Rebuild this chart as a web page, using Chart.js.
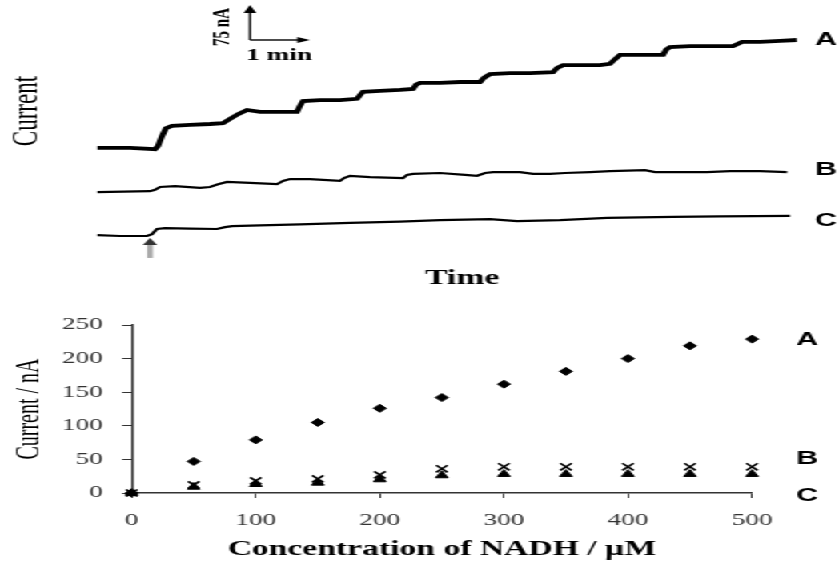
<!DOCTYPE html>
<html>
<head>
<meta charset="utf-8">
<script src="https://cdn.jsdelivr.net/npm/chart.js@4.4.1/dist/chart.umd.min.js"></script>
<style>
html,body{margin:0;padding:0;background:#fff;}
#wrap{position:absolute;left:0;top:0;width:524px;height:568px;transform:scaleX(1.6011);transform-origin:0 0;}
#top{position:absolute;left:0;top:0;width:524px;height:290px;}
#bot{position:absolute;left:0;top:290px;width:524px;height:278px;}
</style>
</head>
<body>
<div id="wrap">
<canvas id="top" width="524" height="290"></canvas>
<canvas id="bot" width="524" height="278"></canvas>
</div>
<script>
// ---------- Top panel: amperometric traces (time in s, current in nA) ----------
const timeA = [0,33,58,61,65,69,75,93,113,126,133,141,150,163,183,200,203,206,223,243,260,263,266,283,303,316,319,323,343,363,383,387,393,413,433,456,460,466,483,503,513,517,523,543,566,569,573,593,613,636,640,645,663,683,700];
const currentA = [219,219,216,223,244,261,266,268,270,272,281,291,300,296,296,296,309,319,321,321,324,332,339,341,343,345,354,358,358,360,360,369,377,379,379,381,390,396,396,396,399,407,418,418,418,429,435,437,437,437,441,446,446,448,450];
const timeB = [0,53,58,63,78,103,113,121,130,153,180,186,193,213,243,247,253,273,306,310,316,343,368,380,388,396,423,436,453,468,493,513,548,558,583,610,633,663,690];
const currentB = [124,126,129,135,137,133,135,141,146,144,141,148,152,152,148,154,159,156,154,161,163,165,161,159,165,167,167,163,163,165,167,169,171,167,167,167,169,169,167];
const timeC = [0,23,50,55,60,68,93,120,128,135,163,203,253,303,343,393,420,463,510,543,576,623,693];
const currentC = [32,30,30,34,45,47,46,45,49,51,53,55,58,61,64,66,62,64,69,70,71,72,73];
const traceLabels = ['A','B','C'];
const traceLabelCurrent = [450,171,62];
const injectionTime = 53;       // arrow marking first addition
const injectionArrow = [26,-17]; // tip, tail (nA)
const scaleBar = {time:153, current:450, dCurrent:75, dTime:60};

// ---------- Bottom panel: calibration ----------
const concentration = [0,50,100,150,200,250,300,350,400,450,500];
const calA = [0,47,79,105,126,142,162,181,200,219,229];
const calB = [0,12,18,21,27,36,39,39,39,39,39];
const calC = [0,9,13,15,20,26,28,28,28,28,28];
const calLabels = ['A','B','C'];
const calLabelCurrent = [228,51,-4];
const xTickStep = 100, yTickStep = 50;

const pts = (xs, ys) => xs.map((x,i)=>({x:x, y:ys[i]}));
const SERIF = "'Liberation Serif','Times New Roman',serif";
const SANS = "'Liberation Sans',Arial,sans-serif";

const topDecor = {
  id:'topDecor',
  afterDatasetsDraw(chart){
    const ctx = chart.ctx, xs = chart.scales.x, ys = chart.scales.y, ca = chart.chartArea;
    ctx.save();
    // trace labels
    ctx.fillStyle = '#000';
    ctx.font = 'bold 19px ' + SANS;
    ctx.textAlign = 'center'; ctx.textBaseline = 'middle';
    traceLabels.forEach((l,i)=>ctx.fillText(l, ca.right + 18, ys.getPixelForValue(traceLabelCurrent[i])));
    // scale bar
    const bx = xs.getPixelForValue(scaleBar.time), by = ys.getPixelForValue(scaleBar.current);
    const ty = ys.getPixelForValue(scaleBar.current + scaleBar.dCurrent);
    const rx = xs.getPixelForValue(scaleBar.time + scaleBar.dTime);
    ctx.strokeStyle = '#000'; ctx.lineWidth = 1.4;
    ctx.beginPath(); ctx.moveTo(bx, by); ctx.lineTo(bx, ty + 6); ctx.stroke();
    ctx.beginPath(); ctx.moveTo(bx, by); ctx.lineTo(rx - 6, by); ctx.stroke();
    ctx.beginPath(); ctx.moveTo(bx, ty); ctx.lineTo(bx - 4, ty + 8); ctx.lineTo(bx + 4, ty + 8); ctx.closePath(); ctx.fill();
    ctx.beginPath(); ctx.moveTo(rx, by); ctx.lineTo(rx - 8, by - 3); ctx.lineTo(rx - 8, by + 3); ctx.closePath(); ctx.fill();
    ctx.font = 'bold 17px ' + SERIF;
    ctx.fillText('1 min', 174.3, 56);
    ctx.save();
    ctx.translate(138.7, 27); ctx.rotate(-Math.PI/2);
    ctx.font = 'bold 15px ' + SERIF;
    ctx.fillText('75 nA', 0, 0);
    ctx.restore();
    // injection arrow
    const ax = xs.getPixelForValue(injectionTime);
    const atip = ys.getPixelForValue(injectionArrow[0]), atail = ys.getPixelForValue(injectionArrow[1]);
    ctx.strokeStyle = '#aaa'; ctx.lineWidth = 3.6;
    ctx.beginPath(); ctx.moveTo(ax, atip + 6); ctx.lineTo(ax, atail); ctx.stroke();
    ctx.fillStyle = '#333';
    ctx.beginPath(); ctx.moveTo(ax, atip); ctx.lineTo(ax - 4.5, atip + 7); ctx.lineTo(ax + 4.5, atip + 7); ctx.closePath(); ctx.fill();
    // axis titles
    ctx.fillStyle = '#000';
    ctx.font = 'bold 21px ' + SERIF;
    ctx.fillText('Time', 288.6, 279);
    ctx.save();
    ctx.translate(17, 111); ctx.rotate(-Math.PI/2);
    ctx.font = '23px ' + SERIF;
    ctx.fillText('Current', 0, 0);
    ctx.restore();
    ctx.restore();
  }
};

new Chart(document.getElementById('top'), {
  type:'line',
  data:{datasets:[
    {label:'A', data:pts(timeA,currentA), borderColor:'#000', borderWidth:3.8, pointRadius:0, tension:0, fill:false},
    {label:'B', data:pts(timeB,currentB), borderColor:'#000', borderWidth:2.2, pointRadius:0, tension:0, fill:false},
    {label:'C', data:pts(timeC,currentC), borderColor:'#000', borderWidth:2.2, pointRadius:0, tension:0, fill:false}
  ]},
  options:{
    responsive:false, animation:false, devicePixelRatio:1,
    layout:{padding:{left:60.58, right:26.2, top:0, bottom:30}},
    plugins:{legend:{display:false}, tooltip:{enabled:false}},
    scales:{
      x:{type:'linear', min:0, max:700, display:false},
      y:{type:'linear', min:-21.4, max:535.7, display:false}
    }
  },
  plugins:[topDecor]
});

const botDecor = {
  id:'botDecor',
  afterDatasetsDraw(chart){
    const ctx = chart.ctx, ys = chart.scales.y, ca = chart.chartArea;
    ctx.save();
    ctx.fillStyle = '#000';
    ctx.font = 'bold 19px ' + SANS;
    ctx.textAlign = 'center'; ctx.textBaseline = 'middle';
    calLabels.forEach((l,i)=>ctx.fillText(l, ca.right + 34.5, ys.getPixelForValue(calLabelCurrent[i])));
    ctx.restore();
  }
};

const tickFont = {family:SERIF, size:17};
new Chart(document.getElementById('bot'), {
  type:'scatter',
  data:{datasets:[
    {label:'C', data:pts(concentration,calC), pointStyle:'triangle', pointRadius:4.5, backgroundColor:'#000', borderColor:'#000', borderWidth:1, clip:false},
    {label:'B', data:pts(concentration,calB), pointStyle:'crossRot', pointRadius:5, backgroundColor:'#000', borderColor:'#000', borderWidth:1.6, clip:false},
    {label:'A', data:pts(concentration,calA), pointStyle:'rectRot', pointRadius:4, backgroundColor:'#000', borderColor:'#000', borderWidth:1, clip:false}
  ]},
  options:{
    responsive:false, animation:false, devicePixelRatio:1,
    layout:{padding:{left:0, right:54.3, top:35, bottom:0}},
    plugins:{legend:{display:false}, tooltip:{enabled:false}},
    scales:{
      x:{type:'linear', min:0, max:500,
        ticks:{stepSize:xTickStep, color:'#333', font:tickFont, padding:12, maxRotation:0},
        grid:{drawOnChartArea:false, drawTicks:true, tickLength:5, color:'#333'},
        border:{color:'#333', width:1.5},
        title:{display:true, text:'Concentration of NADH / µM', color:'#000', font:{family:SERIF, size:21, weight:'bold'}, padding:{top:0, bottom:5.4}},
        afterFit:(a)=>{a.height = 75;}
      },
      y:{type:'linear', min:0, max:250,
        ticks:{stepSize:yTickStep, color:'#333', font:tickFont, padding:12},
        grid:{drawOnChartArea:false, drawTicks:true, tickLength:6, color:'#333'},
        border:{color:'#333', width:1.5},
        title:{display:true, text:'Current / nA', color:'#000', font:{family:SERIF, size:20}, padding:{top:6.75, bottom:0}},
        afterFit:(a)=>{a.width = 82.26;}
      }
    }
  },
  plugins:[botDecor]
});
</script>
</body>
</html>
